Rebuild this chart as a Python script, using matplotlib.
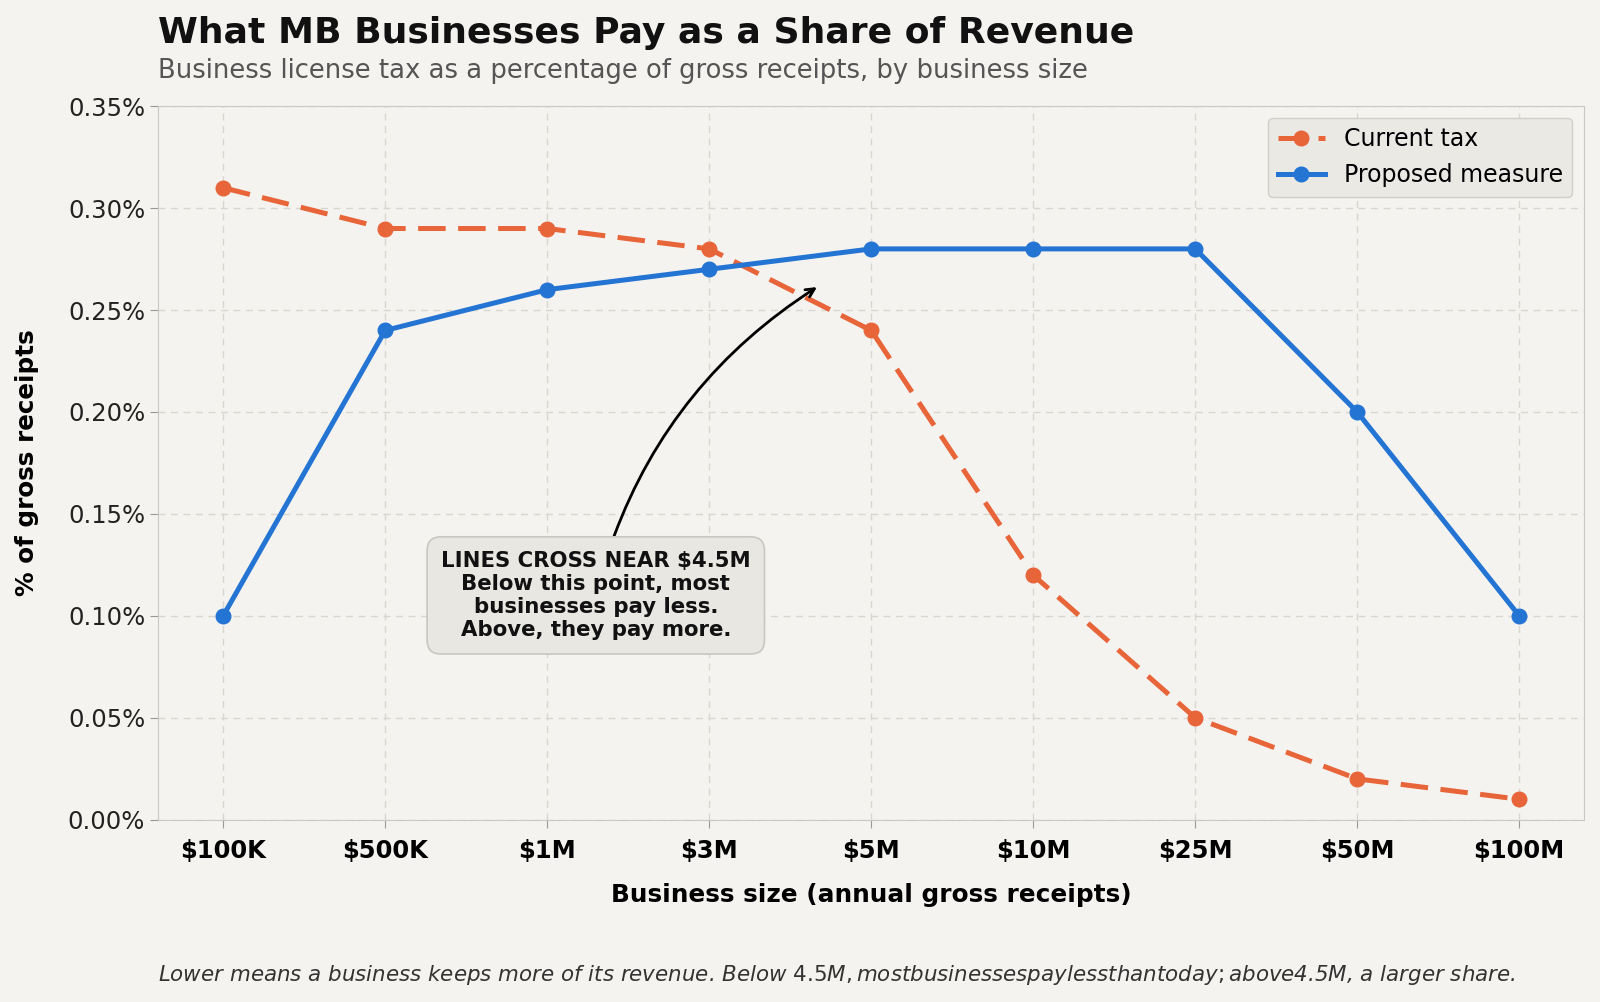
import numpy as np
import matplotlib.pyplot as plt
from matplotlib.ticker import FuncFormatter

# business size buckets and tax share (% of gross receipts)
sizes = ["$100K", "$500K", "$1M", "$3M", "$5M", "$10M", "$25M", "$50M", "$100M"]
current_tax = [0.31, 0.29, 0.29, 0.28, 0.24, 0.12, 0.05, 0.02, 0.01]
proposed = [0.10, 0.24, 0.26, 0.27, 0.28, 0.28, 0.28, 0.20, 0.10]

bg = "#f4f3ef"
orange = "#e8653a"
blue = "#2474d4"

fig = plt.figure(figsize=(16, 10.02), dpi=100, facecolor=bg)
ax = fig.add_axes([0.099, 0.182, 0.891, 0.712])
ax.set_facecolor(bg)

x = np.arange(len(sizes))
ax.plot(x, current_tax, color=orange, lw=3.6, ls=(0, (5.5, 2.5)), marker="o", ms=10.5, label="Current tax")
ax.plot(x, proposed, color=blue, lw=3.6, marker="o", ms=10.5, label="Proposed measure")

ax.set_xlim(-0.4, 8.4)
ax.set_ylim(0, 0.35)
ax.set_xticks(x)
ax.set_xticklabels(sizes, fontsize=17.5, fontweight="bold")
ax.set_yticks(np.arange(0, 0.351, 0.05))
ax.yaxis.set_major_formatter(FuncFormatter(lambda v, p: f"{v:.2f}%"))
ax.tick_params(axis="y", labelsize=17.5, colors="#222222")
ax.tick_params(axis="both", color="#999999", length=6)
ax.tick_params(axis="x", pad=8)
ax.grid(True, ls=(0, (5, 4)), color="#d8d6d0", lw=1)
for s in ax.spines.values():
    s.set_color("#c8c8c8")

ax.set_xlabel("Business size (annual gross receipts)", fontsize=17.8, fontweight="bold", labelpad=14)
ax.set_ylabel("% of gross receipts", fontsize=17.7, fontweight="bold", labelpad=21)

leg = ax.legend(loc="upper right", fontsize=17, facecolor="#eae9e4", edgecolor="#d0cfca", framealpha=1)

ax.annotate("LINES CROSS NEAR $4.5M\nBelow this point, most\nbusinesses pay less.\nAbove, they pay more.",
            xy=(3.68, 0.262), xytext=(2.3, 0.11),
            ha="center", va="center", fontsize=15.3, fontweight="bold", color="#111111",
            bbox=dict(boxstyle="round,pad=0.65", fc="#e8e7e2", ec="#c8c7c2", lw=1.2),
            arrowprops=dict(arrowstyle="->", color="black", lw=2,
                            connectionstyle="arc3,rad=-0.2", shrinkA=0, shrinkB=2))

fig.text(0.099, 0.967, "What MB Businesses Pay as a Share of Revenue", fontsize=26,
         fontweight="bold", color="#111111", va="center")
fig.text(0.099, 0.929, "Business license tax as a percentage of gross receipts, by business size",
         fontsize=18.6, color="#555555", va="center")
fig.text(0.099, 0.027, "Lower means a business keeps more of its revenue. Below $4.5M, most businesses pay less than today; above $4.5M, a larger share.",
         fontsize=15.4, style="italic", color="#333333", va="center")

fig.savefig("out.png", dpi=100, facecolor=bg)
